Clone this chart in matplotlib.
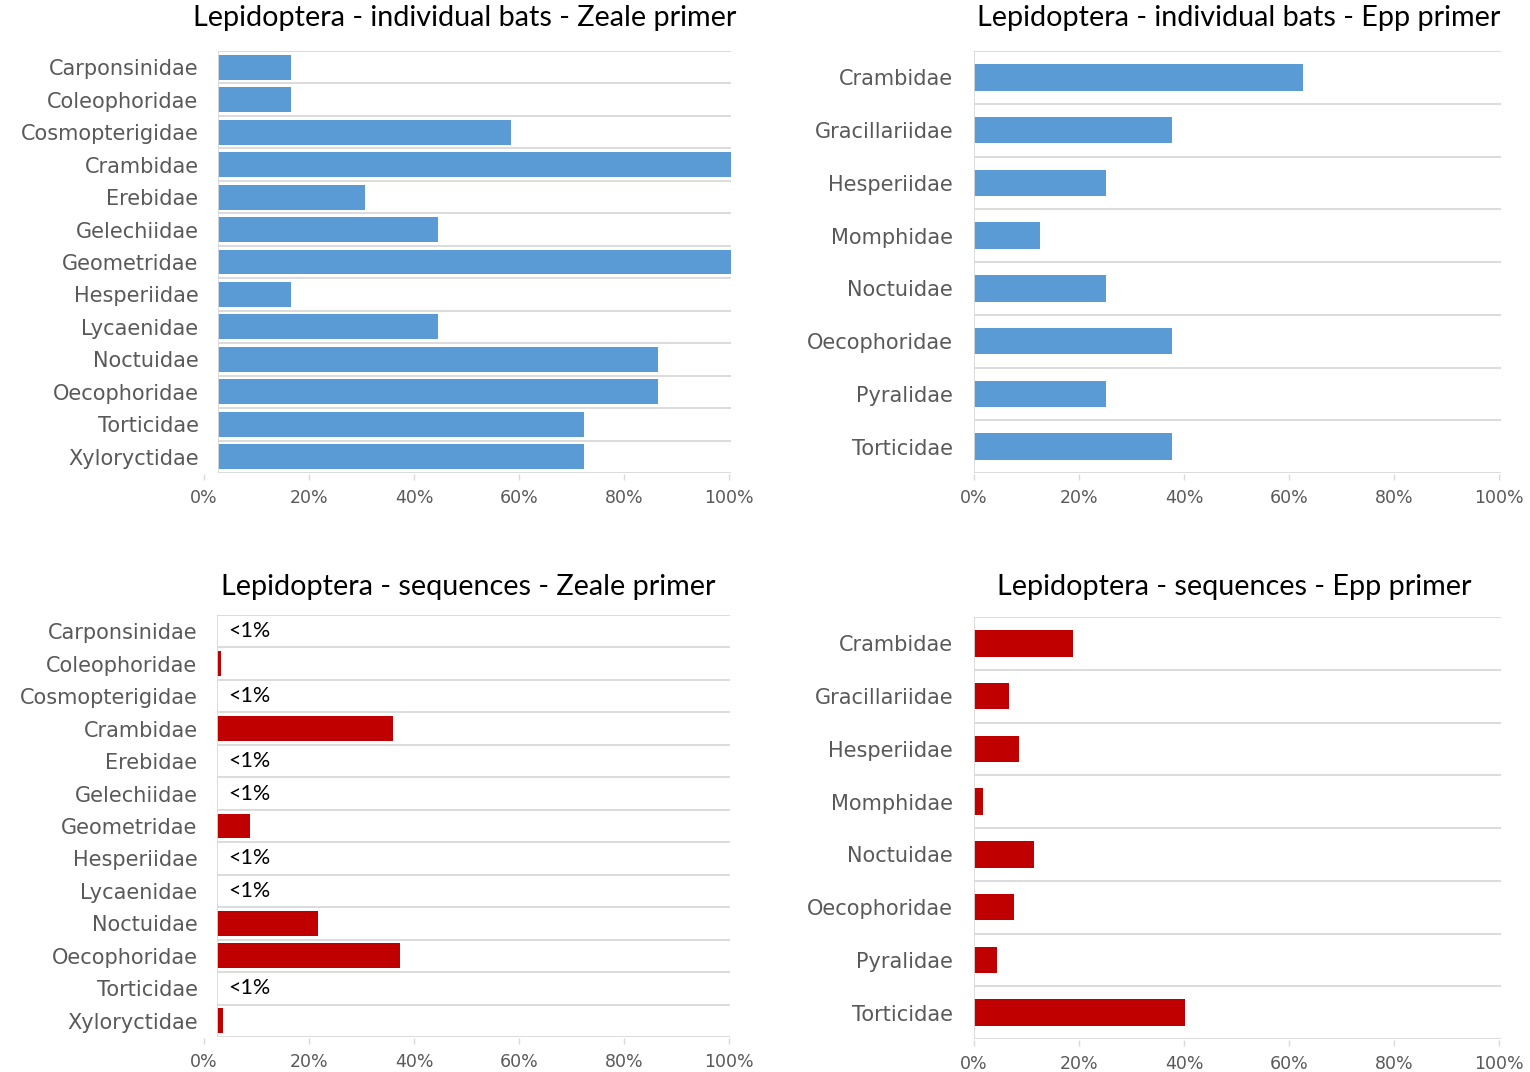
import matplotlib
matplotlib.use("Agg")
import matplotlib.pyplot as plt
from matplotlib.ticker import PercentFormatter

W, H = 1530, 1072

# --- dados ---
zeale_families = ["Carponsinidae", "Coleophoridae", "Cosmopterigidae", "Crambidae",
                  "Erebidae", "Gelechiidae", "Geometridae", "Hesperiidae",
                  "Lycaenidae", "Noctuidae", "Oecophoridae", "Torticidae",
                  "Xyloryctidae"]
zeale_bats = [0.143, 0.143, 0.571, 1.0, 0.286, 0.429, 1.0, 0.143,
              0.429, 0.857, 0.857, 0.714, 0.714]
zeale_seqs = [0.0, 0.008, 0.0, 0.344, 0.0, 0.0, 0.064, 0.0,
              0.0, 0.197, 0.356, 0.0, 0.012]
zeale_seq_notes = ["<1%", "", "<1%", "", "<1%", "<1%", "", "<1%",
                   "<1%", "", "", "<1%", ""]

epp_families = ["Crambidae", "Gracillariidae", "Hesperiidae", "Momphidae",
                "Noctuidae", "Oecophoridae", "Pyralidae", "Torticidae"]
epp_bats = [0.625, 0.375, 0.25, 0.125, 0.25, 0.375, 0.25, 0.375]
epp_seqs = [0.188, 0.066, 0.086, 0.018, 0.113, 0.076, 0.043, 0.400]

BLUE = "#5B9BD5"
RED = "#C00000"
GRID = "#D9D9D9"
LABEL = "#595959"


def px_rect(x0, x1, y0, y1):
    """Retangulo em pixels (y de cima para baixo) -> coordenadas da figura."""
    return [x0 / W, 1 - y1 / H, (x1 - x0) / W, (y1 - y0) / H]


def panel(fig, names, values, color, title, box, tick_span, bar_h,
          title_xy, label_pad, notes=None):
    x0, x1, y0, y1 = box
    ax = fig.add_axes(px_rect(x0, x1, y0, y1))
    n = len(names)
    pos = list(range(n))
    ax.barh(pos, values, height=bar_h, color=color, zorder=2)
    ax.set_xlim(0, 1)
    ax.set_ylim(n - 0.5, -0.5)
    ax.hlines([i - 0.5 for i in range(n + 1)], 0, 1, color=GRID, lw=1.3,
              zorder=1)
    ax.axvline(0, color=GRID, lw=1.3, zorder=3)
    for s in ax.spines.values():
        s.set_visible(False)
    ax.set_xticks([])
    ax.set_yticks(pos)
    ax.set_yticklabels(names, fontsize=15, color=LABEL, family="DejaVu Sans")
    ax.tick_params(axis="y", length=0, pad=label_pad)
    if notes:
        for i, t in enumerate(notes):
            if t:
                ax.text(0.022, i, t, va="center", ha="left", fontsize=15.5,
                        family="Lato", color="black")

    # eixo de porcentagens (no Excel fica ligeiramente deslocado)
    t0, t1 = tick_span
    tx = fig.add_axes(px_rect(t0, t1, y1, y1 + 1))
    tx.patch.set_visible(False)
    for s in tx.spines.values():
        s.set_visible(False)
    tx.set_xlim(0, 1)
    tx.set_yticks([])
    tx.set_xticks([0, 0.2, 0.4, 0.6, 0.8, 1.0])
    tx.xaxis.set_major_formatter(PercentFormatter(1.0, decimals=0))
    tx.tick_params(axis="x", length=4, width=1, color=GRID, labelsize=12.5,
                   labelcolor=LABEL, pad=6.5)

    fig.text(title_xy[0] / W, 1 - title_xy[1] / H, title, ha="center",
             va="center", fontsize=20.7, family="Lato", color="black")
    return ax


fig = plt.figure(figsize=(W / 100, H / 100), dpi=100)

panel(fig, zeale_families, zeale_bats, BLUE,
      "Lepidoptera - individual bats - Zeale primer",
      (218, 731, 51, 473), (204, 729), 0.77, (465, 18), 14)
panel(fig, epp_families, epp_bats, BLUE,
      "Lepidoptera - individual bats - Epp primer",
      (974, 1501, 51, 473), (974, 1499), 0.5, (1239, 18), 15)
panel(fig, zeale_families, zeale_seqs, RED,
      "Lepidoptera - sequences - Zeale primer",
      (217, 730, 615, 1037), (204, 729), 0.77, (468, 587), 14,
      notes=zeale_seq_notes)
panel(fig, epp_families, epp_seqs, RED,
      "Lepidoptera - sequences - Epp primer",
      (974, 1501, 617, 1039), (974, 1499), 0.5, (1234, 587), 15)

fig.savefig("out.png", dpi=100, facecolor="white")
